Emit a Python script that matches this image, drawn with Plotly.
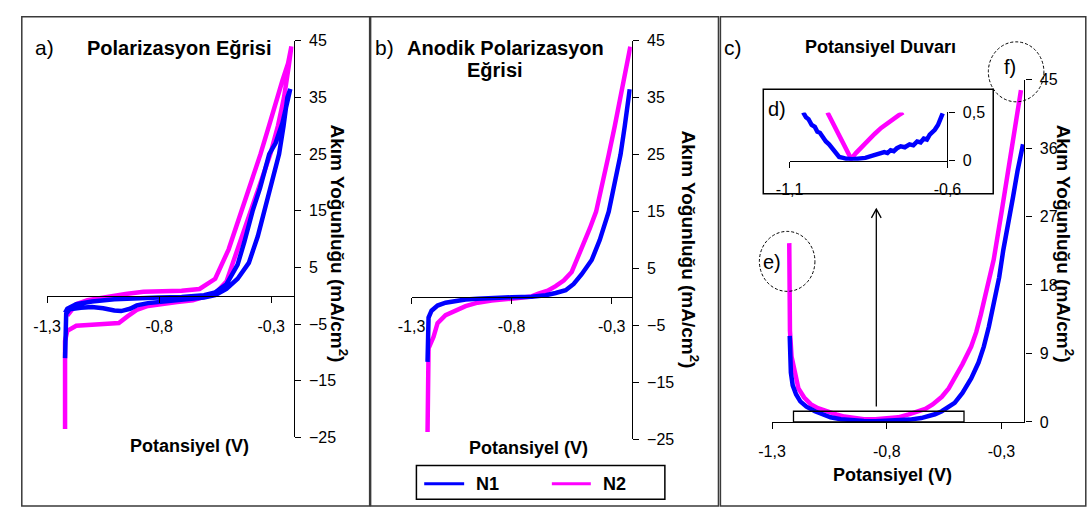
import plotly.graph_objects as go

# ---------------- data ----------------
# Panel a) Polarizasyon Eğrisi (cyclic)
a_n1_x = [-1.22, -1.22, -1.215, -1.20, -1.15, -1.10, -1.05, -1.00, -0.97, -0.93, -0.90, -0.85, -0.80, -0.75,
          -0.70, -0.65, -0.60, -0.55, -0.50, -0.45, -0.40, -0.36, -0.33, -0.30, -0.265, -0.245, -0.228, -0.215,
          -0.23, -0.25, -0.28, -0.309, -0.35, -0.383, -0.42, -0.45, -0.50, -0.55, -0.60, -0.70, -0.80, -0.90,
          -1.00, -1.10, -1.17, -1.21, -1.22]
a_n1_y = [-11.0, -5.0, -3.2, -2.4, -2.1, -2.0, -2.2, -2.6, -2.7, -2.3, -1.7, -1.3, -1.1, -0.95,
          -0.85, -0.65, -0.3, 0.1, 1.2, 3.0, 5.8, 10.5, 15.0, 19.5, 25.0, 30.0, 35.0, 36.5,
          34.0, 30.5, 27.0, 25.0, 19.0, 15.0, 9.5, 5.5, 2.0, 0.6, 0.1, -0.2, -0.3, -0.4,
          -0.6, -1.0, -1.5, -2.3, -3.0]
a_n2_x = [-1.22, -1.22, -1.21, -1.17, -1.10, -1.03, -0.98, -0.94, -0.90, -0.85, -0.80, -0.72, -0.65, -0.60,
          -0.55, -0.50, -0.45, -0.39, -0.35, -0.304, -0.27, -0.243, -0.222, -0.21,
          -0.225, -0.25, -0.274, -0.31, -0.348, -0.39, -0.435, -0.49, -0.55, -0.62, -0.70, -0.80, -0.87,
          -0.95, -1.06, -1.12, -1.17, -1.21]
a_n2_y = [-23.5, -8.0, -6.2, -5.3, -5.1, -5.0, -4.8, -3.6, -2.5, -1.8, -1.5, -1.1, -0.8, -0.3,
          0.4, 2.5, 8.2, 15.0, 20.0, 25.0, 30.0, 35.0, 40.5, 44.0,
          41.0, 38.0, 35.0, 30.0, 25.0, 20.0, 15.0, 8.2, 3.0, 1.2, 0.9, 0.8, 0.7,
          0.3, -0.3, -0.8, -1.5, -3.5]

# Panel b) Anodik Polarizasyon Eğrisi
b_n1_x = [-1.22, -1.22, -1.215, -1.20, -1.17, -1.13, -1.085, -1.03, -0.97, -0.90, -0.80, -0.70, -0.63,
          -0.58, -0.53, -0.49, -0.45, -0.40, -0.36, -0.315, -0.285, -0.256, -0.235, -0.217, -0.21]
b_n1_y = [-11.4, -6.0, -3.6, -2.4, -1.5, -1.0, -0.7, -0.45, -0.3, -0.15, -0.05, 0.05, 0.3,
          0.7, 1.2, 2.3, 4.0, 6.5, 10.0, 15.0, 20.0, 25.0, 30.0, 35.0, 36.5]
b_n2_x = [-1.22, -1.22, -1.215, -1.19, -1.17, -1.13, -1.085, -1.03, -0.97, -0.90, -0.80, -0.70, -0.666,
          -0.62, -0.58, -0.54, -0.50, -0.45, -0.41, -0.378, -0.345, -0.315, -0.285, -0.256, -0.23, -0.207]
b_n2_y = [-23.7, -12.0, -9.0, -7.0, -4.6, -3.2, -2.4, -1.6, -1.0, -0.6, -0.3, 0.1, 0.6,
          1.1, 1.9, 2.9, 4.4, 8.4, 12.0, 15.0, 20.0, 25.0, 30.0, 35.0, 39.5, 44.0]

# Panel c) Potansiyel Duvarı
c_n1_x = [-1.223, -1.222, -1.218, -1.21, -1.195, -1.177, -1.15, -1.113, -1.08, -1.045, -1.00, -0.95, -0.90,
          -0.85, -0.80, -0.75, -0.70, -0.65, -0.62, -0.59, -0.56, -0.53, -0.504, -0.47, -0.432, -0.40,
          -0.377, -0.355, -0.334, -0.31, -0.292, -0.27, -0.25, -0.23, -0.206]
c_n1_y = [11.3, 9.0, 6.5, 4.8, 3.6, 2.7, 2.0, 1.4, 1.0, 0.6, 0.35, 0.2, 0.12,
          0.1, 0.12, 0.18, 0.3, 0.5, 0.7, 1.0, 1.4, 1.9, 2.5, 3.8, 5.7, 7.8,
          9.9, 12.5, 15.4, 19.0, 22.6, 26.0, 29.5, 33.0, 36.5]
c_n2_x = [-1.225, -1.224, -1.222, -1.215, -1.20, -1.185, -1.16, -1.13, -1.10, -1.057, -1.02, -0.985, -0.95,
          -0.90, -0.85, -0.80, -0.75, -0.704, -0.67, -0.632, -0.60, -0.56, -0.53, -0.504, -0.47, -0.432,
          -0.41, -0.39, -0.37, -0.347, -0.334, -0.30, -0.27, -0.24, -0.215]
c_n2_y = [23.5, 18.0, 12.0, 8.6, 6.2, 4.4, 3.2, 2.3, 1.8, 1.3, 1.0, 0.7, 0.5,
          0.35, 0.35, 0.45, 0.6, 1.0, 1.3, 1.7, 2.3, 3.3, 4.4, 5.7, 7.6, 9.9,
          11.8, 14.1, 16.5, 19.2, 21.3, 27.5, 33.0, 38.5, 43.6]

# Inset d)
d_n1_x = [-1.057, -1.048, -1.04, -1.03, -1.02, -1.012, -1.004, -0.995, -0.985, -0.975, -0.964, -0.953, -0.943,
          -0.93, -0.92, -0.90, -0.88, -0.86, -0.84, -0.82, -0.80, -0.79, -0.78, -0.77, -0.76, -0.748, -0.735,
          -0.72, -0.708, -0.696, -0.685, -0.675, -0.665, -0.656, -0.648, -0.64, -0.63, -0.62, -0.615]
d_n1_y = [0.50, 0.45, 0.43, 0.37, 0.35, 0.30, 0.29, 0.24, 0.20, 0.17, 0.12, 0.08, 0.04,
          0.03, 0.02, 0.015, 0.02, 0.03, 0.05, 0.07, 0.09, 0.08, 0.11, 0.10, 0.13, 0.15, 0.14,
          0.17, 0.16, 0.20, 0.19, 0.23, 0.22, 0.27, 0.29, 0.32, 0.37, 0.44, 0.49]
d_n2_x = [-0.98, -0.96, -0.94, -0.925, -0.912, -0.905, -0.89, -0.87, -0.85, -0.83, -0.81, -0.79, -0.77,
          -0.755, -0.74]
d_n2_y = [0.50, 0.37, 0.24, 0.14, 0.05, 0.02, 0.08, 0.15, 0.22, 0.28, 0.34, 0.39, 0.44, 0.47, 0.50]

x_ticks_main = [-1.3, -0.8, -0.3]
x_ticktext_main = ["-1,3", "-0,8", "-0,3"]
y_ticks_ab = [-25, -15, -5, 5, 15, 25, 35, 45]
y_ticks_c = [0, 9, 18, 27, 36, 45]
x_ticks_d = [-1.1, -0.6]
x_ticktext_d = ["-1,1", "-0,6"]
y_ticks_d = [0, 0.5]
y_ticktext_d = ["0", "0,5"]

series_names = ["N1", "N2"]
series_colors = {"N1": "#0000FF", "N2": "#FF00FF"}

# ---------------- layout helpers ----------------
W, H = 1092, 516
FONT = "Liberation Sans, Arial, sans-serif"


def px(x):
    return x / W


def py(y):
    return 1 - y / H


fig = go.Figure()

panels = [
    ("x", "y", a_n1_x, a_n1_y, a_n2_x, a_n2_y, 4.5),
    ("x2", "y2", b_n1_x, b_n1_y, b_n2_x, b_n2_y, 4.5),
    ("x3", "y3", c_n1_x, c_n1_y, c_n2_x, c_n2_y, 4.5),
    ("x4", "y4", d_n1_x, d_n1_y, d_n2_x, d_n2_y, 4.5),
]
for xa, ya, x1, y1, x2, y2, lw in panels:
    fig.add_trace(go.Scatter(x=x2, y=y2, xaxis=xa, yaxis=ya, mode="lines", name="N2",
                             line=dict(color=series_colors["N2"], width=lw), showlegend=False))
    fig.add_trace(go.Scatter(x=x1, y=y1, xaxis=xa, yaxis=ya, mode="lines", name="N1",
                             line=dict(color=series_colors["N1"], width=lw), showlegend=False))

axis_common = dict(showgrid=False, zeroline=False, showline=True, linecolor="black", linewidth=1.3,
                   ticks="outside", ticklen=6, tickwidth=1.3, tickcolor="black",
                   tickfont=dict(family=FONT, size=16, color="black"))

fig.update_layout(
    width=W, height=H, autosize=False,
    margin=dict(l=0, r=0, t=0, b=0),
    paper_bgcolor="white", plot_bgcolor="rgba(0,0,0,0)",
    showlegend=False,
    xaxis=dict(domain=[px(34), px(287)], range=[-1.3, -0.2], anchor="free", position=py(298),
               tickvals=x_ticks_main, ticktext=x_ticktext_main, ticklabelstandoff=9, **axis_common),
    yaxis=dict(domain=[py(444), py(34)], range=[-25, 45], anchor="x", side="right",
               tickvals=y_ticks_ab, ticklabelstandoff=5, **axis_common),
    xaxis2=dict(domain=[px(408), px(634)], range=[-1.3, -0.2], anchor="free", position=py(299),
                tickvals=x_ticks_main, ticktext=x_ticktext_main, ticklabelstandoff=9, **axis_common),
    yaxis2=dict(domain=[py(446), py(34)], range=[-25, 45], anchor="x2", side="right",
                tickvals=y_ticks_ab, ticklabelstandoff=5, **axis_common),
    xaxis3=dict(domain=[px(778), px(1037)], range=[-1.3, -0.2], anchor="y3",
                tickvals=x_ticks_main, ticktext=x_ticktext_main, ticklabelstandoff=9, **axis_common),
    yaxis3=dict(domain=[py(428), py(74)], range=[0, 45], anchor="x3", side="right",
                tickvals=y_ticks_c, ticklabelstandoff=5, **axis_common),
    xaxis4=dict(domain=[px(796), px(958)], range=[-1.1, -0.6], anchor="y4",
                tickvals=x_ticks_d, ticktext=x_ticktext_d, ticklabelstandoff=8, **axis_common),
    yaxis4=dict(domain=[py(158), py(108)], range=[0, 0.5], anchor="x4", side="right",
                tickvals=y_ticks_d, ticktext=y_ticktext_d, ticklabelstandoff=5, **axis_common),
)

shapes = []
# panel frames
for x0, x1 in [(8, 365), (366, 723), (725, 1100)]:
    shapes.append(dict(type="rect", xref="paper", yref="paper", x0=px(x0), x1=px(x1), y0=py(515), y1=py(9),
                       line=dict(color="#3a3a3a", width=1.5), layer="below"))
# inset box
shapes.append(dict(type="rect", xref="paper", yref="paper", x0=px(769), x1=px(1005), y0=py(192), y1=py(84),
                   line=dict(color="black", width=1.5)))
# highlighted region rectangle in c
shapes.append(dict(type="rect", xref="paper", yref="paper", x0=px(800), x1=px(975), y0=py(428), y1=py(417),
                   line=dict(color="black", width=1.3)))
# arrow
shapes.append(dict(type="line", xref="paper", yref="paper", x0=px(885), x1=px(885), y0=py(412), y1=py(208),
                   line=dict(color="black", width=1.3)))
shapes.append(dict(type="path", xref="paper", yref="paper",
                   path=f"M {px(880)},{py(217)} L {px(885)},{py(208)} L {px(890)},{py(217)}",
                   line=dict(color="black", width=1.3)))
# dashed circles e) and f)
shapes.append(dict(type="circle", xref="paper", yref="paper", x0=px(765), x1=px(822), y0=py(293), y1=py(231),
                   line=dict(color="black", width=1, dash="3px,2px")))
shapes.append(dict(type="circle", xref="paper", yref="paper", x0=px(1000), x1=px(1057), y0=py(97), y1=py(35),
                   line=dict(color="black", width=1, dash="3px,2px")))
# legend
shapes.append(dict(type="rect", xref="paper", yref="paper", x0=px(413), x1=px(668), y0=py(508), y1=py(473),
                   line=dict(color="black", width=1.5), fillcolor="white"))
shapes.append(dict(type="line", xref="paper", yref="paper", x0=px(421), x1=px(462), y0=py(492), y1=py(492),
                   line=dict(color=series_colors["N1"], width=3)))
shapes.append(dict(type="line", xref="paper", yref="paper", x0=px(552), x1=px(592), y0=py(492), y1=py(492),
                   line=dict(color=series_colors["N2"], width=3)))
fig.update_layout(shapes=shapes)

ann = []


def text(x, y, s, size, bold=False, angle=0, xanchor="center"):
    if bold:
        s = f"<b>{s}</b>"
    ann.append(dict(x=px(x), y=py(y), xref="paper", yref="paper", text=s, showarrow=False,
                    xanchor=xanchor, yanchor="middle", textangle=angle,
                    font=dict(family=FONT, size=size, color="black")))


ytitle = "Akım Yoğunluğu (mA/cm<sup>2</sup>)"
# panel a
text(20, 41, "a)", 21, xanchor="left")
text(170, 41, "Polarizasyon Eğrisi", 20, bold=True)
text(180, 453, "Potansiyel (V)", 18, bold=True)
text(334, 244, ytitle, 19, bold=True, angle=90)
# panel b
text(368, 41, "b)", 21, xanchor="left")
text(504, 41, "Anodik Polarizasyon", 20, bold=True)
text(494, 64, "Eğrisi", 20, bold=True)
text(528, 455, "Potansiyel (V)", 18, bold=True)
text(694, 250, ytitle, 19, bold=True, angle=90)
# panel c
text(727, 41, "c)", 21, xanchor="left")
text(889, 40, "Potansiyel Duvarı", 18, bold=True)
text(902, 483, "Potansiyel (V)", 18, bold=True)
text(1079, 244, ytitle, 19, bold=True, angle=90)
text(783, 104, "d)", 20)
text(778, 263, "e)", 20)
text(1022, 61, "f)", 20)
# legend text
text(486, 492, series_names[0], 18, bold=True)
text(616, 492, series_names[1], 18, bold=True)
fig.update_layout(annotations=ann)

fig.write_html("out.html")
